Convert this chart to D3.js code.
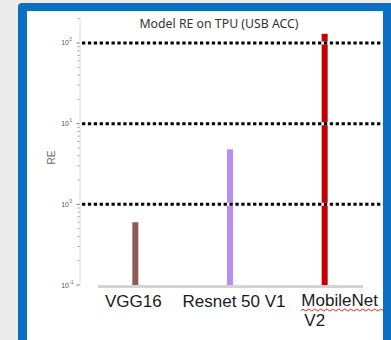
<!DOCTYPE html>
<html><head><meta charset="utf-8">
<script src="https://cdn.jsdelivr.net/npm/d3@7"></script>
<style>
html,body{margin:0;padding:0;background:#ebebeb;overflow:hidden;}
svg{display:block;}
</style></head>
<body>
<svg id="c" width="391" height="340"></svg>
<script>
const categories = ["VGG16", "Resnet 50 V1", "MobileNet V2"];
const labelLines = [["VGG16"], ["Resnet 50 V1"], ["MobileNet", "V2"]];
const values = [0.6, 4.8, 130];
const colors = ["#8d5c56", "#b98cf4", "#c00000"];
const refLines = [1, 10, 100];
const majorTicks = [0.1, 1, 10, 100];
const tickExponents = ["-1", "0", "1", "2"];
const title = "Model RE on TPU (USB ACC)";
const yLabel = "RE";

const svg = d3.select("#c");
// frame
svg.append("rect").attr("x", 18).attr("y", 3).attr("width", 390).attr("height", 360).attr("rx", 4).attr("fill", "#0b6fc4");
svg.append("rect").attr("x", 27).attr("y", 11).attr("width", 356).attr("height", 340).attr("fill", "#ffffff");

const y = d3.scaleLog().domain([0.1, 200]).range([285, 18.7]);
const x = d3.scaleBand().domain(categories).range([88, 372]);
const xl = d3.scaleBand().domain(categories).range([83, 385]);
const axisX = 80;

// title
svg.append("text").attr("x", 219).attr("y", 28).attr("text-anchor", "middle")
  .attr("font-family", "Noto Sans, sans-serif").attr("font-size", 12.3).attr("fill", "#333")
  .text(title);

// y axis line
svg.append("line").attr("x1", axisX).attr("x2", axisX).attr("y1", y(200)).attr("y2", y(0.1))
  .attr("stroke", "#dcdcdc").attr("stroke-width", 1);

// minor ticks
const minor = [];
for (let e = -1; e <= 2; e++) for (let m = 2; m <= 9; m++) { const v = m * Math.pow(10, e); if (v <= 200) minor.push(v); }
svg.append("g").selectAll("line").data(minor).join("line")
  .attr("x1", axisX - 2.5).attr("x2", axisX - 0.5).attr("y1", d => y(d)).attr("y2", d => y(d))
  .attr("stroke", "#888").attr("stroke-width", 0.8);
svg.append("g").selectAll("line").data(majorTicks).join("line")
  .attr("x1", axisX - 3.5).attr("x2", axisX - 0.5).attr("y1", d => y(d)).attr("y2", d => y(d))
  .attr("stroke", "#666").attr("stroke-width", 0.9);

// tick labels
svg.append("g").selectAll("text").data(majorTicks).join("text")
  .attr("x", axisX - 11).attr("y", d => y(d) + 2.5).attr("text-anchor", "end")
  .attr("font-family", "Liberation Sans, Arial, sans-serif").attr("font-size", 7).attr("fill", "#555")
  .text("10");
svg.append("g").selectAll("text").data(majorTicks).join("text")
  .attr("x", axisX - 10.5).attr("y", d => y(d) - 1.5).attr("text-anchor", "start")
  .attr("font-family", "Liberation Sans, Arial, sans-serif").attr("font-size", 4.5).attr("fill", "#555")
  .text((d, i) => tickExponents[i]);

// y label
svg.append("text").attr("transform", `translate(55,${y(Math.sqrt(10)*1.2)}) rotate(-90)`)
  .attr("text-anchor", "middle").attr("font-family", "Liberation Sans, Arial, sans-serif")
  .attr("font-size", 10).attr("fill", "#666").text(yLabel);

// baseline
svg.append("line").attr("x1", 98).attr("x2", 363).attr("y1", 286.5).attr("y2", 286.5)
  .attr("stroke", "#d3d3d3").attr("stroke-width", 3);

// bars
svg.append("g").selectAll("rect").data(categories).join("rect")
  .attr("x", d => x(d) + x.bandwidth() / 2 - 3).attr("width", 6)
  .attr("y", (d, i) => y(values[i])).attr("height", (d, i) => 285 - y(values[i]))
  .attr("fill", (d, i) => colors[i]);

// dotted reference lines
const rl = svg.append("g");
rl.selectAll("line.w").data(refLines).join("line").attr("class", "w")
  .attr("x1", 82).attr("x2", 383).attr("y1", d => y(d)).attr("y2", d => y(d))
  .attr("stroke", "#fff").attr("stroke-width", 3);
rl.selectAll("line.k").data(refLines).join("line").attr("class", "k")
  .attr("x1", 82).attr("x2", 383).attr("y1", d => y(d)).attr("y2", d => y(d))
  .attr("stroke", "#000").attr("stroke-width", 3).attr("stroke-dasharray", "3.3,2.6");

// category labels
const lg = svg.append("g").attr("font-family", "Liberation Sans, Arial, sans-serif").attr("font-size", 17).attr("fill", "#1a1a1a");
categories.forEach((c, i) => {
  const lines = labelLines[i];
  if (lines.length === 1) {
    lg.append("text").attr("x", xl(c) + xl.bandwidth() / 2).attr("y", 306.5).attr("text-anchor", "middle").text(lines[0]);
  } else {
    const x0 = xl(c) + 17;
    const t = lg.append("text").attr("x", x0).attr("y", 306).attr("text-anchor", "start");
    t.append("tspan").attr("x", x0).attr("y", 306).text(lines[0]);
    lines.slice(1).forEach((ln, j) => {
      t.append("tspan").attr("x", x0 + 3).attr("y", 306 + 20 * (j + 1)).text(ln);
    });
    // spellcheck squiggle under wrapped label
    let p = `M${x0},311`;
    for (let k = 0; x0 + k * 3 < 384; k++) p += ` L${x0 + k * 3 + 1.5},${k % 2 ? 311 : 309}`;
    lg.append("path").attr("d", p).attr("fill", "none").attr("stroke", "#e03030").attr("stroke-width", 1);
  }
});
// right frame edge over clipped label/squiggle
svg.append("rect").attr("x", 383).attr("y", 3).attr("width", 10).attr("height", 340).attr("fill", "#0b6fc4");
</script>
</body></html>
